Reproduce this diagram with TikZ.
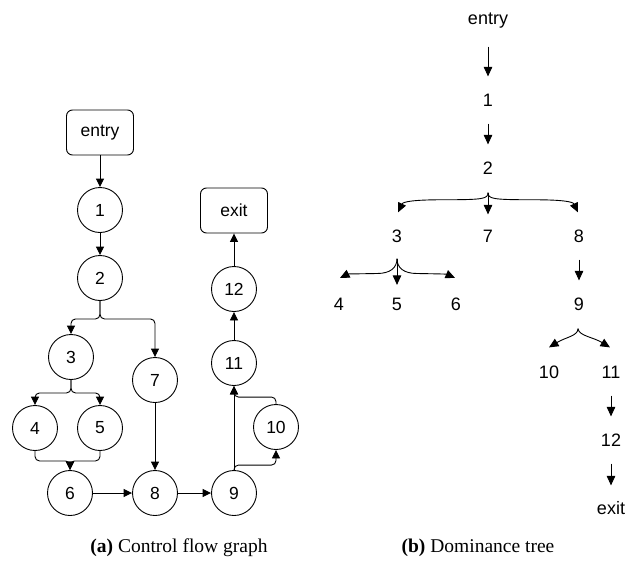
\documentclass[tikz,border=0pt]{standalone}
\usepackage{fontspec}
\newfontfamily\arialf{Liberation Sans}
\newfontfamily\capf{Liberation Serif}
\usetikzlibrary{arrows.meta,calc}
\tikzset{
  arr/.style={-{Triangle[length=8.5pt,width=8pt]}, line width=0.9pt},
  rc/.style={rounded corners=4.5pt},
  cnode/.style={circle, draw, line width=0.9pt, minimum size=45pt, inner sep=0pt, font=\arialf\fontsize{17.5}{20}\selectfont},
  bnode/.style={rectangle, rounded corners=6pt, draw, line width=0.9pt, minimum width=67pt, minimum height=45pt, inner sep=0pt, font=\arialf\fontsize{17.5}{20}\selectfont},
  tnode/.style={inner sep=0pt, text height=12.8pt, text depth=0pt, font=\arialf\fontsize{18}{20}\selectfont},
  tarr/.style={-{Triangle[length=9.5pt,width=8.5pt]}, line width=0.9pt},
  tstr/.style={tarr, shorten <=17pt, shorten >=17pt},
  capt/.style={inner sep=0pt, font=\capf\fontsize{19.5}{22}\selectfont}
}
\begin{document}
\begin{tikzpicture}[x=1pt,y=-1pt]
\useasboundingbox (0,0) rectangle (625,563);
% ---------- (a) control flow graph ----------
\node[bnode] (entry) at (100,132.5) {entry};
\node[cnode] (n1) at (100,210) {1};
\node[cnode] (n2) at (100,278) {2};
\node[cnode] (n3) at (71,357) {3};
\node[cnode] (n7) at (155,380) {7};
\node[cnode] (n4) at (35,428) {4};
\node[cnode] (n5) at (100,428) {5};
\node[cnode] (n6) at (70,493) {6};
\node[cnode] (n8) at (155,493) {8};
\node[cnode] (n9) at (234,493) {9};
\node[cnode] (n10) at (276,427) {10};
\node[cnode] (n11) at (234,363) {11};
\node[cnode] (n12) at (234,289) {12};
\node[bnode] (exit) at (234,210.5) {exit};

\draw[arr] (entry) -- (n1);
\draw[arr] (n1) -- (n2);
\draw[arr,rc] (n2.south) -- ++(0,18) -| (n3.north);
\draw[arr,rc] (n2.south) -- ++(0,18) -| (n7.north);
\draw[arr,rc] (n3.south) -- ++(0,13) -| (n4.north);
\draw[arr,rc] (n3.south) -- ++(0,13) -| (n5.north);
\draw[arr,rc] (n4.south) -- ++(0,10) -| (n6.north);
\draw[arr,rc] (n5.south) -- ++(0,10) -| (n6.north);
\draw[arr] (n7) -- (n8);
\draw[arr] (n6) -- (n8);
\draw[arr] (n8) -- (n9);
\draw[arr] (n9.north) -- (n11.south);
\draw[arr,rc] (n9.north) -- ++(0,-5) -| (n10.south);
\draw[arr,rc] (n10.north) -- ++(0,-7) -| (n11.south);
\draw[arr] (n11) -- (n12);
\draw[arr] (n12) -- (exit);

% ---------- (b) dominance tree ----------
\node[tnode] (tentry) at (488,18) {entry};
\node[tnode] (t1) at (488,100) {1};
\node[tnode] (t2) at (488,168) {2};
\node[tnode] (t3) at (397,236) {3};
\node[tnode] (t7) at (488,236) {7};
\node[tnode] (t8) at (579,236) {8};
\node[tnode] (t4) at (339,304) {4};
\node[tnode] (t5) at (397,304) {5};
\node[tnode] (t6) at (456,304) {6};
\node[tnode] (t9) at (579,304) {9};
\node[tnode] (t10) at (549,372) {10};
\node[tnode] (t11) at (611,372) {11};
\node[tnode] (t12) at (611,440) {12};
\node[tnode] (texit) at (611,508) {exit};

\draw[tarr, shorten <=22pt, shorten >=17pt] (tentry.south) -- (t1.north);
\draw[tstr] (t1.south) -- (t2.north);
% brace from 2
\draw[tarr] ($(t2.south)+(0,18)$) .. controls (488,199) and (483,199.75) .. (443,199.75)
            .. controls (413,199.75) and (403,201.75) .. ($(t3.north)+(1,-17)$);
\draw[tarr] ($(t2.south)+(0,18)$) .. controls (488,199) and (493,199.75) .. (533,199.75)
            .. controls (563,199.75) and (573,201.75) .. ($(t8.north)+(-1,-17)$);
\draw[tarr, shorten <=18pt, shorten >=15pt] (t2.south) -- (t7.north);
% brace from 3
\draw[tarr] ($(t3.south)+(0,16)$) .. controls (397,268) and (390,273.5) .. (377,273.5)
            .. controls (360,273.8) and (348,274) .. ($(t4.north)+(1,-19.5)$);
\draw[tarr] ($(t3.south)+(0,16)$) .. controls (397,268) and (404,273.5) .. (417,273.5)
            .. controls (434,273.8) and (446,274) .. ($(t6.north)+(-1,-19.5)$);
\draw[tarr, shorten <=16pt, shorten >=12.5pt] (t3.south) -- (t5.north);
% 8 -> 9
\draw[tstr] (t8.south) -- (t9.north);
% brace from 9
\draw[tarr] ($(t9.south)+(-1,18)$) .. controls (578,336) and (566,337) .. ($(t10.north)+(0,-18)$);
\draw[tarr] ($(t9.south)+(-1,18)$) .. controls (579,336) and (593,337) .. ($(t11.north)+(-1,-18)$);
\draw[tstr] (t11.south) -- (t12.north);
\draw[tstr, shorten >=16pt] (t12.south) -- (texit.north);

% ---------- captions ----------
\node[capt] (capa) at (179,548) {\textbf{(a)} Control flow graph};
\node[capt] (capb) at (478,548) {\textbf{(b)} Dominance tree};
\end{tikzpicture}
\end{document}
